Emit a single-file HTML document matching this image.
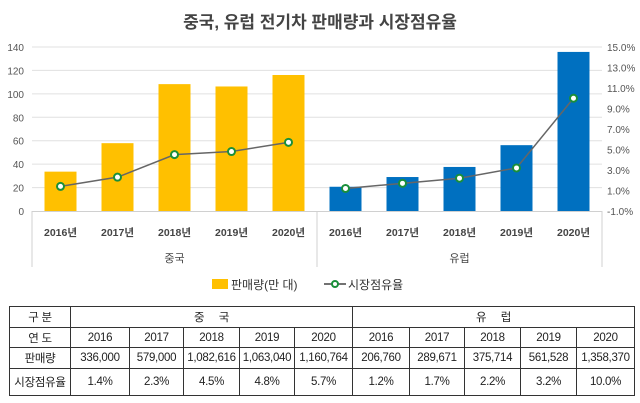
<!DOCTYPE html>
<html><head><meta charset="utf-8"><style>
body{margin:0;background:#fff;font-family:"Liberation Sans","Noto Sans CJK KR",sans-serif}
#wrap{position:relative;width:640px;height:403px;overflow:hidden}
table{position:absolute;left:9px;top:306px;border-collapse:collapse;font-size:11.5px;color:#222}
td{border:1px solid #333;text-align:center;padding:0;height:19px;white-space:nowrap;letter-spacing:-0.3px}
</style></head><body><div id="wrap">
<svg id="chart" width="640" height="300" style="position:absolute;left:0;top:0"></svg>
<table>
<tr style="height:21px"><td style="width:60px">구 분</td><td colspan="5">중 &nbsp;&nbsp;&nbsp; 국</td><td colspan="5">유 &nbsp;&nbsp;&nbsp; 럽</td></tr>
<tr style="height:20px"><td>연 도</td><td style="width:58px">2016</td><td style="width:53px">2017</td><td style="width:55px">2018</td><td style="width:54px">2019</td><td style="width:57px">2020</td><td style="width:56px">2016</td><td style="width:54px">2017</td><td style="width:55px">2018</td><td style="width:55px">2019</td><td style="width:57px">2020</td></tr>
<tr style="height:21px"><td>판매량</td><td>336,000</td><td>579,000</td><td>1,082,616</td><td>1,063,040</td><td>1,160,764</td><td>206,760</td><td>289,671</td><td>375,714</td><td>561,528</td><td>1,358,370</td></tr>
<tr style="height:27px"><td>시장점유율</td><td>1.4%</td><td>2.3%</td><td>4.5%</td><td>4.8%</td><td>5.7%</td><td>1.2%</td><td>1.7%</td><td>2.2%</td><td>3.2%</td><td>10.0%</td></tr>
</table>
</div>
<script>
const years=["2016년","2017년","2018년","2019년","2020년"];
const groups=["중국","유럽"];
const sales=[33.6,57.9,108.3,106.3,116.1,20.7,29.0,37.6,56.2,135.8];
const share=[1.4,2.3,4.5,4.8,5.7,1.2,1.7,2.2,3.2,10.0];
const leftTicks=[0,20,40,60,80,100,120,140];
const rightTicks=[-1,1,3,5,7,9,11,13,15];
const NS="http://www.w3.org/2000/svg";
const svg=document.getElementById('chart');
const L=32,R=602,T=47,B=211;
const bw=(R-L)/sales.length;
const yL=v=>B-(v/140)*(B-T);
const yR=v=>B-((v+1)/16)*(B-T);
const xc=i=>L+bw*(i+0.5);
function mk(t,a,txt){const e=document.createElementNS(NS,t);for(const k in a)e.setAttribute(k,a[k]);if(txt!==undefined)e.textContent=txt;svg.appendChild(e);return e;}
let e=mk('text',{x:320,y:28,'text-anchor':'middle','font-size':17,'font-weight':'bold',fill:'#444'},'중국, 유럽 전기차 판매량과 시장점유율');


leftTicks.forEach(v=>{
 if(v>0){const g=mk('line',{x1:L,x2:R,y1:yL(v),y2:yL(v),stroke:'#e0e0e0'});
 
 }
 const t=mk('text',{x:24,y:yL(v)+4,'text-anchor':'end','font-size':10,fill:'#555'},v);
 
 
});
rightTicks.forEach(v=>{
 const t=mk('text',{x:607,y:yR(v)+4,'font-size':10,fill:'#555'},v.toFixed(1)+'%');
 
 
});
sales.forEach((v,i)=>{
 const r=mk('rect',{x:xc(i)-16,y:yL(v),width:32,height:B-yL(v),fill:i<5?'#FFC000':'#0070C0'});
 
 
 const t=mk('text',{x:xc(i),y:236,'text-anchor':'middle','font-size':10.5,'font-weight':'bold',fill:'#444'},years[i%5]);
 
 
});
e=mk('line',{x1:L,x2:R,y1:B+0.5,y2:B+0.5,stroke:'#d0d0d0'});


[L,(L+R)/2,R].forEach(x=>{const l=mk('line',{x1:x,x2:x,y1:B,y2:267,stroke:'#d0d0d0'});
 
 });
groups.forEach((g,k)=>{const t=mk('text',{x:(xc(k*5)+xc(k*5+4))/2,y:262,'text-anchor':'middle','font-size':11,fill:'#444'},g);
 
 });
[[0,5],[5,10]].forEach(([a,b])=>{
 const pts=share.slice(a,b).map((v,j)=>xc(a+j)+','+yR(v)).join(' ');
 const p=mk('polyline',{points:pts,fill:'none',stroke:'#666','stroke-width':1.5});
 
 
});
share.forEach((v,i)=>{const c=mk('circle',{cx:xc(i),cy:yR(v),r:3.5,fill:'#fff',stroke:'#1a8f3a','stroke-width':2});
 
 });
e=mk('rect',{x:212,y:279,width:16,height:10,fill:'#FFC000'});


e=mk('text',{x:231,y:289,'font-size':12,fill:'#333'},'판매량(만 대)');


e=mk('line',{x1:324,x2:346,y1:284,y2:284,stroke:'#444','stroke-width':1.5});


e=mk('circle',{cx:335,cy:284,r:3,fill:'#fff',stroke:'#1a8f3a','stroke-width':2});


e=mk('text',{x:348,y:289,'font-size':12,fill:'#333'},'시장점유율');


</script></body></html>
